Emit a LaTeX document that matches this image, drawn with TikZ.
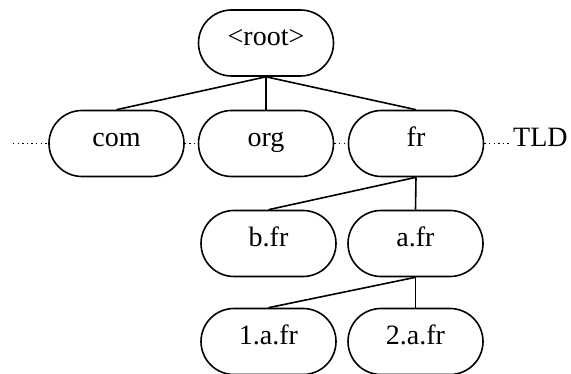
\documentclass[tikz,border=0pt]{standalone}
\usepackage{fontspec}
\setmainfont{Liberation Serif}

\tikzset{
  zone/.style={draw, line width=1.6pt, rounded corners=33pt,
    minimum width=135pt, minimum height=66pt,
    text height=0.74em, text depth=0.17em,
    font=\fontsize{28}{33}\selectfont},
  link/.style={line width=1.6pt},
  dots/.style={line width=1.4pt, dash pattern=on 1.4pt off 3.2pt}
}

\begin{document}
\begin{tikzpicture}[x=1pt,y=-1pt]
\useasboundingbox (0,0) rectangle (571,374);
% root and top level domains
\node [zone] (root) at (266,43) {<root>};
\node [zone] (com) at (116.5,143.5) {com};
\node [zone] (org) at (266,143.5) {org};
\node [zone] (fr) at (416,143.5) {fr};
\node [right, inner sep=3pt, font=\fontsize{28}{33}\selectfont,
  text height=0.74em, text depth=0.17em] (tld) at (510,143.5) {TLD};
\coordinate (lft) at (13,143.5);
% below fr
\node [zone] (bfr) at (268.5,243.5) {b.fr};
\node [zone] (afr) at (415.5,243.5) {a.fr};
\node [zone] (oneafr) at (268.5,341.5) {1.a.fr};
\node [zone] (twoafr) at (415.5,341.5) {2.a.fr};
% tree edges
\draw [link] (root.south) -- (com.north);
\draw [link] (root.south) -- (org.north);
\draw [link] (root.south) -- (fr.north);
\draw [link] (fr.south) -- (bfr.north);
\draw [link] (fr.south) -- (afr.north);
\draw [link] (afr.south) -- (oneafr.north);
\draw [link] (afr.south) -- (twoafr.north);
% same level
\draw [dots] (lft) -- (com.west);
\draw [dots] (com.east) -- (org.west);
\draw [dots] (org.east) -- (fr.west);
\draw [dots] (fr.east) -- (tld.west);
\end{tikzpicture}
\end{document}
